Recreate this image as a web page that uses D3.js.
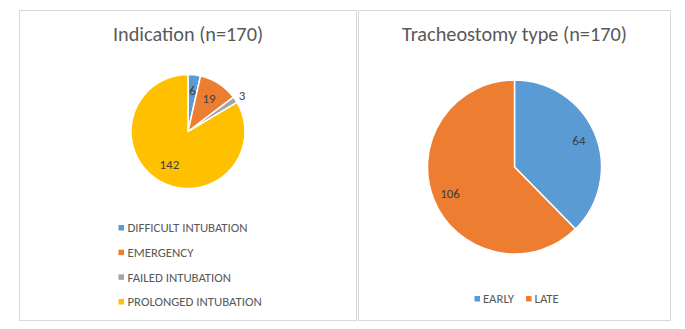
<!DOCTYPE html>
<html>
<head>
<meta charset="utf-8">
<script src="https://cdn.jsdelivr.net/npm/d3@7"></script>
<style>
  html, body { margin: 0; padding: 0; background: #fff; }
  svg { display: block; font-family: Carlito, Calibri, Lato, "Liberation Sans", sans-serif; }
</style>
</head>
<body>
<svg id="chart" width="685" height="329"></svg>
<script>
const indicationLabels = ["DIFFICULT INTUBATION", "EMERGENCY", "FAILED INTUBATION", "PROLONGED INTUBATION"];
const indicationValues = [6, 19, 3, 142];
const indicationColors = ["#5B9BD5", "#ED7D31", "#A5A5A5", "#FFC000"];

const typeLabels = ["EARLY", "LATE"];
const typeValues = [64, 106];
const typeColors = ["#5B9BD5", "#ED7D31"];

const svg = d3.select("#chart");
const textColor = "#595959";
const labelColor = "#404040";

function panel(x, y, w, h) {
  svg.append("rect")
    .attr("x", x + 0.5).attr("y", y + 0.5)
    .attr("width", w).attr("height", h)
    .attr("fill", "#fff")
    .attr("stroke", "#D9D9D9")
    .attr("stroke-width", 1);
}

function drawPie({ cx, cy, r, values, colors, title, titleX, labelPos }) {
  svg.append("text")
    .attr("x", titleX).attr("y", 41)
    .attr("text-anchor", "middle")
    .attr("font-size", 20.3)
    .attr("fill", textColor)
    .text(title);

  const pie = d3.pie().sort(null).value((d) => d);
  const arcs = pie(values);
  const arc = d3.arc().innerRadius(0).outerRadius(r);

  const g = svg.append("g").attr("transform", `translate(${cx},${cy})`);
  g.selectAll("path")
    .data(arcs)
    .join("path")
    .attr("d", arc)
    .attr("fill", (d, i) => colors[i])
    .attr("stroke", "#fff")
    .attr("stroke-width", 1.5)
    .attr("stroke-linejoin", "round");

  g.selectAll("text")
    .data(arcs)
    .join("text")
    .attr("transform", (d, i) => {
      const [f, extra] = labelPos[i];
      const a = (d.startAngle + d.endAngle) / 2;
      const rr = r * f + extra;
      return `translate(${Math.sin(a) * rr},${-Math.cos(a) * rr})`;
    })
    .attr("text-anchor", "middle")
    .attr("dy", "0.35em")
    .attr("font-size", 13)
    .attr("fill", labelColor)
    .text((d) => d.value);
}

panel(19, 10, 337, 310);
panel(358, 10, 312, 310);

drawPie({
  cx: 188, cy: 131.5, r: 57,
  values: indicationValues, colors: indicationColors,
  title: "Indication (n=170)", titleX: 188,
  labelPos: [[0.72, 0], [0.68, 0], [1, 8], [0.66, 0]]
});

drawPie({
  cx: 514.5, cy: 167, r: 87,
  values: typeValues, colors: typeColors,
  title: "Tracheostomy type (n=170)", titleX: 514.5,
  labelPos: [[0.8, 0], [0.8, 0]]
});

// left legend: vertical
const legL = svg.append("g");
const rowY = d3.scalePoint().domain(indicationLabels).range([228, 302]);
indicationLabels.forEach((lab, i) => {
  const y = rowY(lab);
  legL.append("rect").attr("x", 118.5).attr("y", y - 3).attr("width", 5.5).attr("height", 5.5).attr("fill", indicationColors[i]);
  legL.append("text").attr("x", 127.5).attr("y", y).attr("dy", "0.35em")
    .attr("font-size", 12.8).attr("fill", textColor).text(lab);
});

// right legend: horizontal
const legR = svg.append("g");
let lx = 474.5;
typeLabels.forEach((lab, i) => {
  legR.append("rect").attr("x", lx).attr("y", 296).attr("width", 5.5).attr("height", 5.5).attr("fill", typeColors[i]);
  const t = legR.append("text").attr("x", lx + 8.5).attr("y", 299).attr("dy", "0.35em")
    .attr("font-size", 12.8).attr("fill", textColor).text(lab);
  lx += 8.5 + t.node().getComputedTextLength() + 12;
});
</script>
</body>
</html>
